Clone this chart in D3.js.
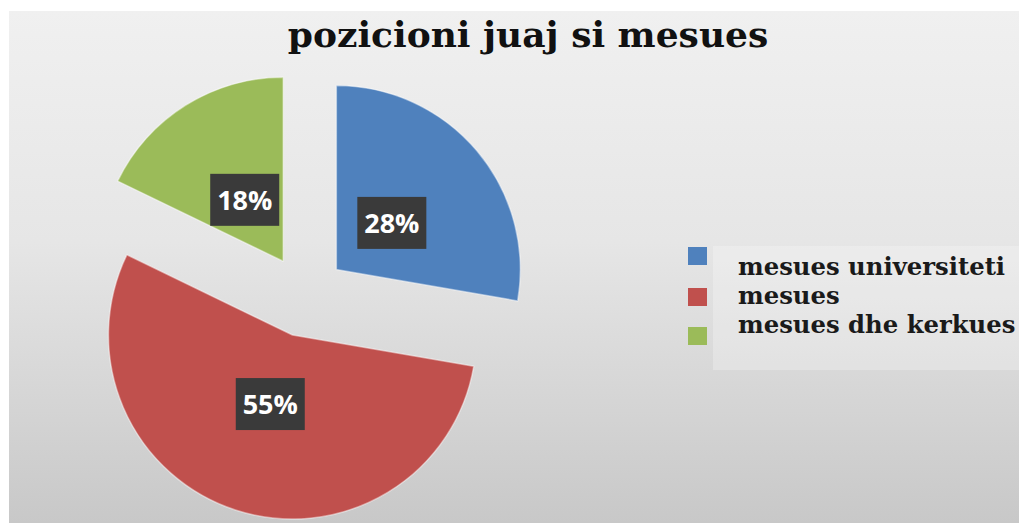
<!DOCTYPE html>
<html>
<head>
<meta charset="utf-8">
<script src="https://cdn.jsdelivr.net/npm/d3@7"></script>
<style>
  html, body { margin: 0; padding: 0; background: #ffffff; }
  svg { display: block; }
</style>
</head>
<body>
<svg id="chart" width="1019" height="523"></svg>
<script>
// Survey answers: teaching position
const categories = ["mesues universiteti", "mesues", "mesues dhe kerkues"];
const values = [28, 55, 18];
const labels = ["28%", "55%", "18%"];
const colors = ["#4f81bd", "#c0504d", "#9bbb59"];
const title = "pozicioni juaj si mesues";

const W = 1019, H = 523;
const svg = d3.select("#chart");

// Background panel with soft vertical gradient
const defs = svg.append("defs");
const grad = defs.append("linearGradient")
  .attr("id", "bg").attr("x1", 0).attr("y1", 0).attr("x2", 0).attr("y2", 1);
grad.append("stop").attr("offset", "0%").attr("stop-color", "#f0f0f0");
grad.append("stop").attr("offset", "45%").attr("stop-color", "#e6e6e6");
grad.append("stop").attr("offset", "100%").attr("stop-color", "#c8c8c8");

svg.append("rect").attr("x", 9).attr("y", 11)
  .attr("width", W - 9).attr("height", H - 11).attr("fill", "url(#bg)");

// Title
svg.append("text")
  .attr("x", 528).attr("y", 47)
  .attr("text-anchor", "middle")
  .attr("font-family", "DejaVu Serif")
  .attr("font-weight", "bold")
  .attr("font-size", 36)
  .attr("fill", "#111111")
  .text(title);

// Exploded pie
const cx = 305, cy = 296, R = 184, explode = 41;
const pie = d3.pie().sort(null).value(d => d);
const arcs = pie(values);
const arc = d3.arc().innerRadius(0).outerRadius(R);
const labelArc = d3.arc().innerRadius(0).outerRadius(145);

const g = svg.append("g").attr("transform", `translate(${cx},${cy})`);

const slices = g.selectAll("g.slice").data(arcs).join("g")
  .attr("class", "slice")
  .attr("transform", d => {
    const a = (d.startAngle + d.endAngle) / 2;
    return `translate(${explode * Math.sin(a)},${-explode * Math.cos(a)})`;
  });

slices.append("path")
  .attr("d", arc)
  .attr("fill", (d, i) => colors[i])
  .attr("stroke", "#ffffff")
  .attr("stroke-opacity", 0.45)
  .attr("stroke-width", 1.5)
  .attr("stroke-linejoin", "round");

// Data labels in dark boxes
const lab = slices.append("g")
  .attr("transform", d => `translate(${labelArc.centroid(d)})`);
lab.append("rect")
  .attr("x", -34.5).attr("y", -26).attr("width", 69).attr("height", 52)
  .attr("fill", "#3a3a3a");
lab.append("text")
  .attr("text-anchor", "middle")
  .attr("dy", "0.36em")
  .attr("font-family", "Open Sans")
  .attr("font-weight", "bold")
  .attr("font-size", 27)
  .attr("fill", "#ffffff")
  .text((d, i) => labels[i]);

// Legend
svg.append("rect").attr("x", 713).attr("y", 246)
  .attr("width", W - 713).attr("height", 124)
  .attr("fill", "#ffffff").attr("fill-opacity", 0.25);

const legendSquareY = [256, 297, 336];
const legendTextY = [275, 304, 333];
const leg = svg.append("g");
categories.forEach((c, i) => {
  leg.append("rect")
    .attr("x", 688).attr("y", legendSquareY[i] - 9)
    .attr("width", 19).attr("height", 18)
    .attr("fill", colors[i]);
  leg.append("text")
    .attr("x", 738).attr("y", legendTextY[i])
    .attr("font-family", "DejaVu Serif")
    .attr("font-weight", "bold")
    .attr("font-size", 24.3)
    .attr("fill", "#1a1a1a")
    .text(c);
});
</script>
</body>
</html>
